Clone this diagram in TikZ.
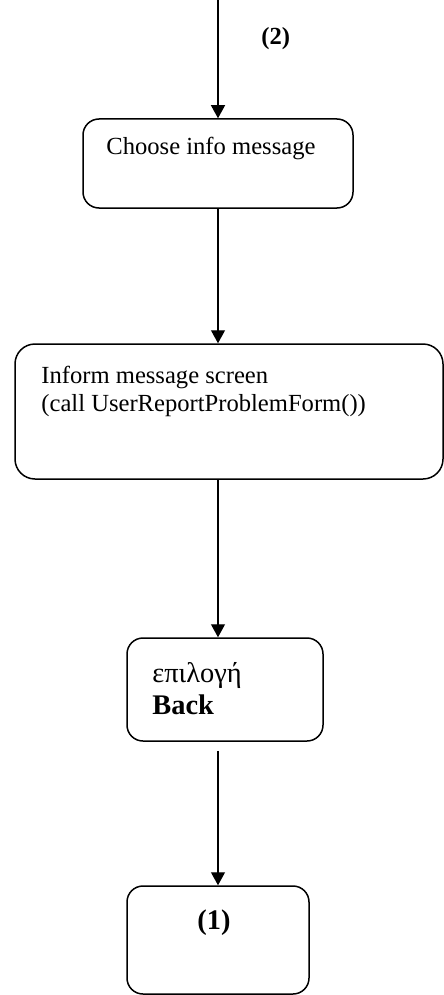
\documentclass[tikz,border=0pt]{standalone}
\usepackage{fontspec}
\setmainfont{Liberation Serif}
\usetikzlibrary{arrows.meta}

\tikzset{
  state/.style={draw, line width=0.75pt, rounded corners=8pt},
  flow/.style={-{Triangle[length=6.5pt,width=7pt]}, line width=0.6pt},
  txt/.style={anchor=base west, inner sep=0pt, font=\fontsize{12.3}{14}\selectfont},
  bigtxt/.style={anchor=base west, inner sep=0pt, font=\fontsize{14.2}{16}\selectfont},
}

\begin{document}
\begin{tikzpicture}[x=0.5pt, y=-0.5pt]
    \useasboundingbox (0,0) rectangle (444,995);

    % states
    \node[state, minimum width=135pt, minimum height=44.5pt] (choose) at (218,163.5) {};
    \node[state, rounded corners=10pt, minimum width=214pt, minimum height=67.5pt] (inform) at (229,411.5) {};
    \node[state, minimum width=98pt, minimum height=51.5pt] (back) at (225,689.5) {};
    \node[state, minimum width=91pt, minimum height=54pt] (final) at (218,940) {};

    % texts
    \node[txt, font=\fontsize{12.3}{14}\selectfont\bfseries] (lbltwo) at (261,45) {(2)};
    \node[txt] (lblchoose) at (106,155) {Choose info message};
    \node[txt] (lblinform) at (41,383) {Inform message screen};
    \node[txt] (lblcall) at (41,411) {(call UserReportProblemForm())};
    \node[bigtxt] (lblselect) at (152,682) {επιλογή};
    \node[bigtxt, font=\fontsize{14.2}{16}\selectfont\bfseries] (lblback) at (152,714) {Back};
    \node[bigtxt, font=\fontsize{14.2}{16}\selectfont\bfseries] (lblone) at (197,929) {(1)};

    % flow
    \coordinate (entry) at (218,0);
    \draw[flow] (entry) -- (choose.north);
    \draw[flow] (choose.south) -- (choose.south |- inform.north);
    \draw[flow] (choose.south |- inform.south) -- (choose.south |- back.north);
    \draw[flow, shorten <=4.5pt] (final.north |- back.south) -- (final.north);
\end{tikzpicture}
\end{document}
